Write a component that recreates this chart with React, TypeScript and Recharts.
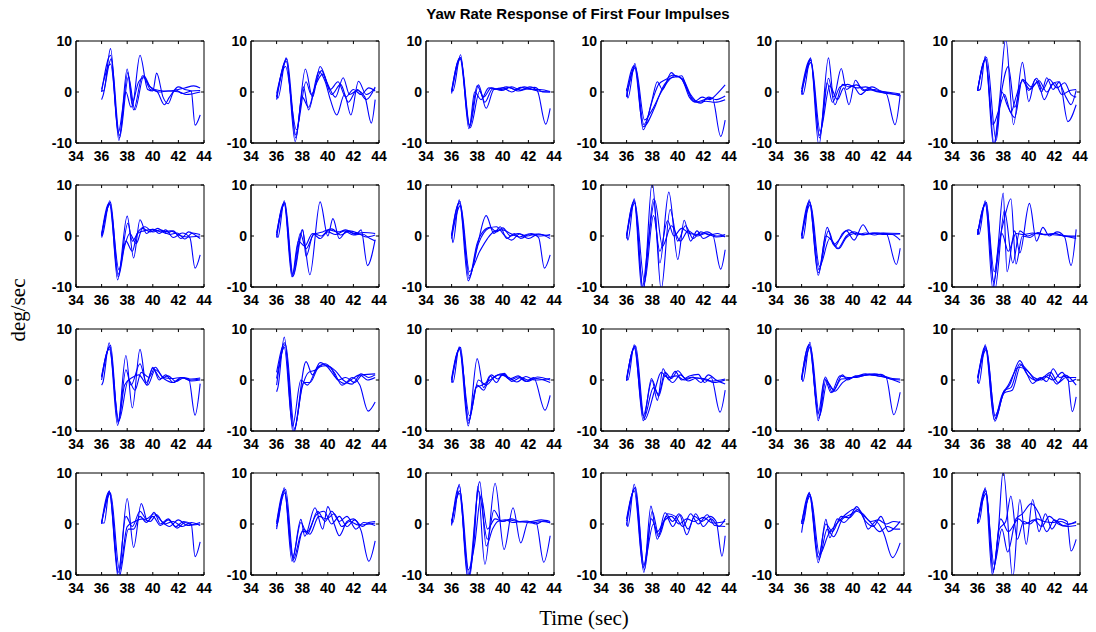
import { LineChart, Line, XAxis, YAxis, ReferenceArea, ReferenceLine } from 'recharts';

type Pt = [number, number];

const timeTicks = [34, 36, 38, 40, 42, 44];
const rateTicks = [-10, 0, 10];

// each panel: four traces of [time (sec), yaw rate (deg/sec)]
const r1c1: Pt[][] = [
  [[36, 0.3], [36.15, 0.2], [36.7, 8.5], [37.35, -9.5], [38.0, 4.5], [38.4, -2.5], [39.0, 7.2], [39.6, 0.5], [40.0, 0.2], [40.3, 3.7], [40.8, -1], [41.2, -2.3], [41.6, 0], [42, 1], [42.5, 0.5], [43, 0.2], [43.3, -6.5], [43.7, -4.5]],
  [[36, -1.5], [36.1, -0.8], [36.75, 6.5], [37.4, -8.5], [38.05, 3.8], [38.5, -3.5], [39.2, 3.2], [39.8, 1], [40.5, 0.3], [41.2, 0.2], [42, 0.5], [42.5, 0.8], [43.2, 1.2], [43.7, 0.8]],
  [[36, 0], [36.7, 7.2], [37.3, -8], [37.9, 0], [38.3, -3], [38.9, 2], [39.3, 2.8], [39.8, 0.5], [40.3, 0.2], [40.9, -2.5], [41.3, -1], [41.8, 0.4], [42.3, -0.3], [43, 0.2], [43.7, 0.3]],
  [[36, 0.5], [36.7, 5.5], [37.4, -9], [38.1, 3], [38.6, -3.5], [39.3, 3.2], [39.8, 1], [40.5, 0], [41.2, 0.2], [42.1, 0], [42.6, -0.5], [43.7, 0]],
];
const r1c2: Pt[][] = [
  [[36, -0.5], [36.1, -1.2], [36.75, 6.7], [37.45, -9.7], [38.25, 4.5], [38.8, -1], [39.4, 5], [40, 1.5], [40.6, -1], [41.2, 2.8], [41.7, -0.5], [42.3, 0.3], [42.9, -1], [43.4, -6.1], [43.7, -1.5]],
  [[36, -1.5], [36.8, 6.5], [37.5, -8.4], [38.1, 1], [38.5, -3.5], [39.3, 4], [39.8, 2], [40.2, -1.5], [40.7, -4.5], [41.3, -0.5], [41.8, -4.5], [42.4, 2.1], [43, -0.5], [43.7, 0.7]],
  [[36, -0.3], [36.7, 5], [37.55, -7.4], [38.3, 2], [38.7, -0.5], [39.5, 4.2], [40.2, 0.5], [40.8, 2], [41.4, -1], [42, 0.5], [42.6, -0.5], [43.2, 0.8], [43.7, 0.2]],
  [[36, -1], [36.75, 6], [37.5, -9], [38, -1], [38.5, -3], [39.0, 1], [39.6, 3.5], [40.3, -0.5], [41, 1.5], [41.6, -2], [42.3, 0.5], [43, -1.5], [43.7, 1]],
];
const r1c3: Pt[][] = [
  [[36, 0.6], [36.1, 0.2], [36.7, 7.3], [37.35, -7.2], [38.0, 1.2], [38.5, -1], [39.1, 0.8], [39.9, 0.3], [40.7, 1], [41.4, 0.4], [42.1, 1], [42.7, 0.2], [43.35, -6.3], [43.7, -3.2]],
  [[36, 0], [36.65, 6.7], [37.4, -6.8], [38.1, 1.4], [38.7, -3.2], [39.3, 0.5], [40.0, 0.8], [40.7, 0], [41.4, 0.9], [42.2, 0.5], [42.9, 0.5], [43.7, 0.1]],
  [[36, 0.3], [36.7, 6.8], [37.45, -7], [38.2, 0.2], [38.6, -2], [39.2, 0.6], [39.9, 0.5], [40.5, 0.9], [41.2, 0.2], [41.9, 0.6], [42.5, 0.9], [43.1, 0], [43.7, 0]],
  [[36, -0.3], [36.7, 6.5], [37.4, -6.5], [37.8, 0], [38.3, -1.5], [38.9, 0.8], [39.6, 0.6], [40.3, 1], [41.0, 0.5], [41.7, 1], [42.4, 0.4], [43.7, 0]],
];
const r1c4: Pt[][] = [
  [[36, 0.7], [36.1, -1.2], [36.65, 5.6], [37.3, -7.4], [37.95, -2], [38.4, 2], [38.8, 0.5], [39.5, 3.8], [39.9, 3], [40.3, 3.2], [40.8, 0], [41.3, -1.9], [41.9, -1], [42.5, -1.5], [43.0, -0.5], [43.7, 1.4]],
  [[36, -1], [36.65, 5], [37.35, -6.4], [38.1, -1], [38.5, 1.5], [39.1, 2.5], [39.6, 3.3], [40.3, 2.6], [40.9, -1], [41.4, -2], [42.1, -1.5], [42.7, -1.2], [43.35, -8.7], [43.7, -5.5]],
  [[36, -0.8], [36.7, 4.8], [37.4, -5.5], [38, -3.5], [38.6, -0.5], [39.2, 2], [39.8, 3.2], [40.4, 2.5], [41, -0.5], [41.6, -2], [42.2, -1.8], [42.9, -2], [43.7, -1.5]],
  [[36, 0.2], [36.6, 5.2], [37.3, -6.8], [38.2, -3], [38.8, 0.8], [39.5, 2.8], [40.1, 3], [40.6, 1.2], [41.2, -1.5], [41.8, -2.2], [42.4, -1], [43.0, -1.5], [43.7, -0.8]],
];
const r1c5: Pt[][] = [
  [[36, 0.3], [36.1, -0.5], [36.7, 6.7], [37.35, -10.5], [38.1, 6.7], [38.5, -1], [39.1, 4.6], [39.5, 0.5], [40, 1.2], [40.6, -0.5], [41.2, 0.5], [42, 0], [42.6, -0.3], [43.3, -6.4], [43.7, -0.6]],
  [[36, -0.5], [36.7, 6.2], [37.4, -9], [38.1, 2.7], [38.6, -2.5], [39.2, 1.5], [39.7, 1], [40.3, 1.4], [41, 0.3], [41.7, 0.5], [42.5, -0.2], [43.7, -0.5]],
  [[36, 0], [36.75, 5.8], [37.45, -7.7], [38.2, 1.2], [38.8, -1.5], [39.3, 0.8], [39.7, -2.5], [40.2, 2.3], [40.8, 0.3], [41.5, 1], [42.2, 0.2], [43, -0.3], [43.7, -0.8]],
  [[36, 0.5], [36.7, 6.5], [37.4, -8.5], [38.0, 1.8], [38.4, -2], [39.0, 1], [39.6, 1.5], [40.3, 0.8], [41, 1], [41.8, 0.2], [42.6, 0], [43.7, -0.4]],
];
const r1c6: Pt[][] = [
  [[36, 0.3], [36.2, 0.5], [36.6, 7], [37.25, -10.5], [37.7, -2], [38.2, 10.5], [38.8, -6.4], [39.5, 5.8], [40, -1.9], [40.5, 2.5], [41, 0], [41.4, 2.8], [41.9, 0.5], [42.4, 2], [43.05, -5.8], [43.7, -2.5]],
  [[36, 0.2], [36.65, 6.5], [37.3, -10.5], [37.8, -1], [38.4, 5], [38.9, -3], [39.5, 2.4], [40, 0.3], [40.6, 2.7], [41.1, 0.5], [41.6, 2.5], [42.2, 0.8], [42.8, 1.8], [43.3, -0.5], [43.7, -1]],
  [[36, 0.3], [36.6, 6.3], [37.2, -6.4], [37.6, -4], [38.1, -0.5], [38.6, -4], [39.0, -1], [39.5, 2.2], [40.1, 0.5], [40.7, 2], [41.2, -1.5], [41.8, 1.5], [42.3, 2], [42.9, -1], [43.3, -2.5], [43.7, 0.3]],
  [[36, 0.4], [36.7, 6.8], [37.45, -9.5], [37.9, 0], [38.3, -2.5], [38.9, -5], [39.5, 2.5], [40.2, 1], [40.8, 2.2], [41.4, 0], [42, 1.8], [42.6, -0.5], [43.2, 0.3], [43.7, 0.5]],
];

const r2c1: Pt[][] = [
  [[36, -0.3], [36.1, 0.4], [36.65, 6.9], [37.25, -8.6], [38, 3.9], [38.5, -4.3], [39, 3.2], [39.5, 0.5], [40, 1.3], [40.5, 0.5], [41, 1.2], [41.6, -0.3], [42.3, 0.6], [42.9, -0.3], [43.3, -6.3], [43.7, -3.7]],
  [[36, 0.4], [36.6, 6.5], [37.3, -8], [37.8, -2], [38.2, 0.5], [38.7, -1.5], [39.2, 1.5], [39.8, 0.8], [40.4, 1.5], [41, 0.5], [41.6, 1], [42.2, -0.5], [42.8, 0.8], [43.3, 0.2], [43.7, -0.5]],
  [[36, 0], [36.65, 6.2], [37.35, -6.6], [38.05, 2.5], [38.4, -1], [38.9, 1], [39.4, 1.8], [40, 0.8], [40.6, 1.2], [41.3, 0.3], [41.9, 0.6], [42.5, -0.6], [43.1, 0.6], [43.7, 0.3]],
  [[36, 0.2], [36.7, 6.6], [37.3, -7.5], [37.9, -1], [38.4, -3], [38.8, 0.5], [39.3, 1], [40, 1.3], [40.7, 0.8], [41.4, 1], [42, 0.2], [42.7, -0.2], [43.7, 0]],
];
const r2c2: Pt[][] = [
  [[36, 0.3], [36.1, -0.3], [36.6, 6.9], [37.25, -8], [38, 1.2], [38.6, -7.6], [39.4, 6.7], [40, 0], [40.4, 3.4], [40.9, -0.5], [41.5, 1], [42.2, 0.3], [42.6, 1.2], [43.1, -5.8], [43.7, -0.7]],
  [[36, -0.3], [36.65, 6.5], [37.3, -7.8], [38.05, 1.2], [38.3, -4], [38.9, 0.5], [39.5, 0], [40.1, 1.2], [40.8, 0.8], [41.4, 1.2], [42.1, 0.5], [42.8, 0.7], [43.7, 0.5]],
  [[36, 0.6], [36.6, 6.2], [37.2, -8], [37.7, -1], [38.2, -2], [38.8, 0.5], [39.4, -0.5], [40.0, 0.8], [40.6, 0.3], [41.3, 1], [42, 0.2], [42.7, 0.4], [43.3, -0.5], [43.7, -1]],
  [[36, 0.2], [36.6, 6.6], [37.25, -7.5], [37.85, 0.5], [38.3, -2.5], [38.9, 0.3], [39.6, 0.8], [40.3, 1.4], [41, 0.2], [41.7, 1], [42.4, 0.5], [43, -0.2], [43.7, 0.2]],
];
const r2c3: Pt[][] = [
  [[36, 0.5], [36.1, -1.3], [36.6, 7.1], [37.3, -8.8], [38, -2], [38.7, 4], [39.3, 0.5], [39.8, 1.8], [40.3, -0.5], [40.9, 0.5], [41.4, -0.5], [42.2, 0.5], [42.8, -0.3], [43.25, -6.3], [43.7, -3.7]],
  [[36, 0], [36.65, 6.8], [37.35, -8.3], [38, -1.4], [38.5, 1], [39, 1.7], [39.5, 0.8], [40, 1.6], [40.6, 0], [41.2, 0.5], [41.9, 0], [42.6, 0.4], [43.7, 0]],
  [[36, 0.3], [36.6, 6.5], [37.4, -7.8], [38.1, -1.5], [38.9, 1.5], [39.5, 1.8], [40.1, 0.2], [40.7, -0.8], [41.3, 0.4], [42, -0.5], [42.8, 0.4], [43.7, -0.5]],
  [[36, -0.5], [36.7, 6], [37.4, -7], [38.2, -3], [38.8, -0.5], [39.4, 1], [40, 1.2], [40.6, 0.5], [41.3, -0.2], [42, 0.4], [42.8, 0], [43.7, 0.3]],
];
const r2c4: Pt[][] = [
  [[36, 0.5], [36.1, -0.8], [36.6, 7.3], [37.3, -11], [38.0, 10.5], [38.6, -5.3], [39.3, 8.6], [40, -4.6], [40.5, 3.1], [41, -1], [41.5, 1], [42, -0.5], [42.7, 0.3], [43.35, -6.5], [43.7, -2.7]],
  [[36, -0.5], [36.6, 7], [37.3, -10.5], [38.1, 7.3], [38.7, -10.5], [39.4, 5.2], [40, -1], [40.6, 2], [41.2, -0.5], [41.8, 0.8], [42.5, 0.2], [43.1, 0.5], [43.7, -0.2]],
  [[36, 0], [36.65, 6.5], [37.4, -9], [38.1, 4], [38.6, -3], [39.2, 3], [39.7, 0], [40.3, 1.5], [40.9, 0.5], [41.6, 0.3], [42.3, 0.8], [43, 0], [43.7, 0.3]],
  [[36, 0.3], [36.6, 6.8], [37.2, -10.5], [37.7, -1], [38.2, 7], [38.8, -2], [39.5, 2], [40.2, -1], [40.8, 1], [41.5, 0], [42.2, 0.5], [43, -0.2], [43.7, 0]],
];
const r2c5: Pt[][] = [
  [[36, 0.5], [36.1, -0.5], [36.6, 7.1], [37.3, -7.7], [38, 1.7], [38.5, -1.7], [39, -0.5], [39.5, 1], [40.1, -0.8], [40.8, 2.2], [41.3, 0.5], [41.9, 0.6], [42.6, 0.5], [43.4, -5.6], [43.7, -2.4]],
  [[36, -0.5], [36.65, 6.6], [37.35, -6.6], [37.9, 0], [38.4, -1], [38.9, -2.5], [39.5, -0.3], [40.2, 0.5], [41, 0.3], [41.7, 0.6], [42.5, 0.5], [43.1, 0.3], [43.7, -0.8]],
  [[36, 0.2], [36.6, 6.8], [37.3, -7.2], [38.1, 1], [38.6, -2], [39.2, 0.5], [39.7, 1.2], [40.3, 0.2], [41, 0.6], [41.7, 0.2], [42.4, 0.6], [43.7, 0.5]],
  [[36, 0], [36.7, 6.2], [37.4, -6], [38.2, -0.5], [38.8, -2.5], [39.5, 0], [40.1, 0.8], [40.8, 0.2], [41.5, 0.6], [42.3, 0.3], [43.7, 0.4]],
];
const r2c6: Pt[][] = [
  [[36, 1.4], [36.1, 0.3], [36.6, 6.9], [37.2, -10.5], [37.6, -2], [38, 8.4], [38.3, -7], [38.9, 1], [39.3, -3.3], [40.05, 6.4], [40.6, -1], [41.1, 1.7], [41.6, 0], [42.2, 0.8], [42.8, -0.2], [43.3, -5.8], [43.7, 1.3]],
  [[36, 0.3], [36.65, 6.5], [37.3, -7], [37.7, -1], [38.1, 3.5], [38.6, 7.3], [39, -5.5], [39.5, 0], [40.1, -0.3], [40.7, 0.7], [41.3, 0.2], [42, 0.5], [42.8, 0], [43.7, -0.5]],
  [[36, 0.4], [36.6, 6.2], [37.35, -10.5], [38.1, 5], [38.75, -5.3], [39.3, 1], [39.9, 0], [40.5, 0.5], [41.2, 0.3], [42, 0.5], [42.7, 0], [43.7, -0.2]],
  [[36, 0.2], [36.7, 6.6], [37.25, -9], [37.9, 0.5], [38.4, -3], [39, 0.5], [39.6, 0.3], [40.3, 0.6], [41, 0.4], [41.8, 0.3], [42.5, 0.1], [43.7, 0]],
];

const r3c1: Pt[][] = [
  [[36, -1], [36.1, -0.5], [36.6, 7.3], [37.25, -8.9], [37.9, 4.8], [38.4, -5.5], [39, 6], [39.5, -1], [40, 2.5], [40.5, 0], [41, 1], [41.6, -0.5], [42.2, 0.5], [42.8, 0.3], [43.3, -6.9], [43.7, -0.7]],
  [[36, 0.7], [36.65, 6.5], [37.3, -8.2], [37.9, 2], [38.3, -1], [39, 3.2], [39.5, -0.5], [40, 2.3], [40.6, 0.3], [41.2, 0.8], [41.8, -0.3], [42.4, 0.4], [43, 0.2], [43.7, 0.4]],
  [[36, 0.5], [36.6, 6.1], [37.35, -8], [38.1, 0], [38.6, -2], [39.1, 1.5], [39.7, 0.5], [40.2, 2.5], [40.8, 0.5], [41.5, 0.3], [42.2, 0.5], [42.9, 0], [43.7, 0.2]],
  [[36, 0], [36.7, 6.8], [37.3, -8.5], [37.8, -1], [38.4, 0.5], [38.9, 1], [39.6, -1], [40.2, 2], [40.9, 0.2], [41.6, -0.5], [42.3, 0.5], [43, -0.2], [43.7, 0]],
];
const r3c2: Pt[][] = [
  [[36, -2.3], [36.1, -1.5], [36.6, 8.4], [37.3, -10.5], [38.3, 3.6], [38.8, 1], [39.4, 3.4], [40, 2.5], [40.6, 0.5], [41.3, -0.7], [41.9, 0.5], [42.5, -1], [43.15, -6.1], [43.7, -4.3]],
  [[36, 1.5], [36.65, 7.3], [37.35, -10], [38, -1.4], [38.5, 1.5], [39.1, 2], [39.6, 3], [40.2, 2.5], [40.8, 0], [41.4, 0.5], [42.1, -0.5], [42.7, 1], [43.7, 1.2]],
  [[36, -1], [36.6, 6.4], [37.25, -9], [37.9, 0], [38.4, -1], [39.2, 2.5], [39.8, 3.2], [40.5, 1.5], [41.1, -1], [41.8, 0], [42.5, 1], [43.1, 0], [43.7, 0.5]],
  [[36, 0.3], [36.7, 7], [37.4, -9.5], [38.1, -0.5], [38.6, -0.5], [39.3, 2.5], [39.9, 2.8], [40.6, 1.8], [41.2, 0], [41.9, -0.8], [42.6, 1.2], [43.2, 0.5], [43.7, 1]],
];
const r3c3: Pt[][] = [
  [[36, 0.3], [36.1, -0.5], [36.6, 6.5], [37.3, -9], [38, 4.2], [38.5, -1.5], [39, 0.8], [39.5, -0.5], [40, 1.2], [40.6, 0], [41.2, 0.6], [41.8, -0.3], [42.4, 0.5], [43.3, -5.9], [43.7, -3]],
  [[36, -0.5], [36.65, 6.3], [37.35, -8], [38, -1], [38.5, -2], [39.1, 1], [39.6, 0.2], [40.1, 1.3], [40.7, -0.3], [41.4, 0.5], [42, 0], [42.7, 0.6], [43.7, 0]],
  [[36, 0.3], [36.6, 6], [37.4, -7], [38.1, 0], [38.7, -1], [39.3, 0.5], [39.9, 1.2], [40.5, 0.2], [41.2, 0.8], [41.9, -0.3], [42.6, 0.3], [43.7, -0.5]],
  [[36, 0], [36.7, 6.4], [37.3, -8.5], [37.9, -1.5], [38.4, -1], [39, 0], [39.7, 1], [40.4, 0.6], [41.1, -0.4], [41.8, 0.7], [42.5, 0], [43.7, 0.3]],
];
const r3c4: Pt[][] = [
  [[36, 0.3], [36.1, 0], [36.6, 6.9], [37.3, -8], [37.95, 0.3], [38.4, -4], [38.85, 2.2], [39.3, 0], [39.8, 1.7], [40.3, 0], [40.9, 0.8], [41.6, 1.1], [42.1, -0.5], [42.6, 0.5], [43.3, -6.3], [43.7, -2]],
  [[36, 0], [36.65, 6.6], [37.35, -7.5], [38.1, -1.5], [38.5, -2.8], [39, 1.5], [39.5, 0.3], [40, 1.8], [40.6, 0.3], [41.2, 0.6], [41.8, -0.5], [42.4, 1], [43, 0], [43.7, -0.8]],
  [[36, -0.2], [36.6, 6.3], [37.3, -7], [38, 0], [38.5, -3.2], [39, 0.8], [39.6, -0.5], [40.2, 1], [40.8, -0.2], [41.5, 0.4], [42.2, 0.2], [42.8, -0.5], [43.7, 0]],
  [[36, 0.4], [36.7, 6.7], [37.4, -7.8], [38.2, -2], [38.7, 1.5], [39.2, 0.5], [39.9, 0.8], [40.5, 0], [41.2, 0.5], [41.9, 0.2], [42.6, -0.2], [43.7, 0.2]],
];
const r3c5: Pt[][] = [
  [[36, 0.8], [36.1, -0.3], [36.65, 7.4], [37.3, -8], [37.85, 0.6], [38.4, -2.4], [39.2, 1], [39.6, 0], [40.2, 0.8], [40.8, 0.9], [41.4, 1], [42, 0.8], [42.6, 0.5], [43.2, -6.8], [43.7, -2.4]],
  [[36, 0.2], [36.6, 7], [37.35, -7.5], [37.9, 0], [38.5, -2], [39.1, 0.2], [39.7, 0.3], [40.4, 0.8], [41, 1.2], [41.6, 1], [42.2, 1.1], [42.8, 0.3], [43.7, 0]],
  [[36, 0], [36.7, 6.5], [37.4, -7], [38, -0.5], [38.6, -2.2], [39.2, -0.5], [39.9, 0.5], [40.6, 0.7], [41.3, 1.1], [42, 0.8], [42.7, 0.4], [43.7, -0.5]],
  [[36, 0.5], [36.6, 6.8], [37.3, -6.5], [37.8, 0.3], [38.3, -2.5], [39, 0.8], [39.6, 0.5], [40.3, 0.5], [41, 1], [41.7, 1.2], [42.4, 0.8], [43.1, 0.3], [43.7, 0.2]],
];
const r3c6: Pt[][] = [
  [[36, 0], [36.1, -0.7], [36.6, 6.9], [37.35, -8.1], [38, -2.7], [38.5, -1], [39.3, 3.8], [39.8, 1.5], [40.3, -0.7], [40.9, 0.5], [41.4, -0.3], [41.9, 2.2], [42.4, 0.5], [43, 0.8], [43.4, -6.2], [43.7, -3.3]],
  [[36, 0.5], [36.65, 6.3], [37.4, -7.5], [38.1, -2], [38.6, -1.5], [39.3, 3.2], [39.9, 1], [40.5, 0], [41.1, 0.5], [41.7, 1.5], [42.3, -0.5], [42.9, 0.5], [43.7, 0.5]],
  [[36, -0.5], [36.6, 6.6], [37.3, -7.8], [37.9, -3], [38.4, -1], [39.2, 2.5], [39.8, 2], [40.4, 0.5], [41, 0], [41.6, 1], [42.2, -0.8], [42.8, 1], [43.7, -1]],
  [[36, 0.3], [36.7, 6], [37.35, -7], [38.1, -2.5], [38.7, -2], [39.4, 3], [40, 1.5], [40.6, -0.2], [41.3, 0.7], [41.9, 0], [42.6, 1.5], [43.2, -0.3], [43.7, 0.2]],
];

const r4c1: Pt[][] = [
  [[36, 0.2], [36.2, 0.2], [36.6, 6.5], [37.3, -10.5], [38, 5], [38.5, -4.6], [39.1, 4], [39.6, 0.5], [40.1, 2.3], [40.6, 0], [41.2, 1], [41.8, -0.5], [42.4, 0.5], [43, 0], [43.3, -6.4], [43.7, -3.5]],
  [[36, 0], [36.65, 6.2], [37.35, -10.5], [38.1, -1], [38.5, -1], [39, 1.5], [39.5, 0.3], [40, 1.5], [40.6, -0.3], [41.2, 0.8], [41.9, -0.8], [42.5, 0.3], [43.1, -0.2], [43.7, 0]],
  [[36, 0.3], [36.6, 6.4], [37.3, -9.5], [37.9, 1.5], [38.4, -0.5], [39, 2.5], [39.5, 1], [40.1, 2], [40.7, 0.5], [41.3, -0.5], [42, 0.8], [42.7, -0.3], [43.7, 0.3]],
  [[36, 0.2], [36.7, 6], [37.4, -9], [38, -0.5], [38.6, 0.5], [39.2, 1], [39.8, 0.5], [40.3, 1.8], [40.9, 0], [41.6, 0.5], [42.3, -0.5], [43, 0.3], [43.7, -0.3]],
];
const r4c2: Pt[][] = [
  [[36, -0.5], [36.1, 0.3], [36.6, 7.1], [37.2, -7.3], [37.9, 0.9], [38.2, -2.4], [39, 3.2], [39.6, -1], [40, 3.4], [40.5, 0], [40.9, -2.3], [41.5, 0.5], [42, 1], [42.6, -1.3], [43.2, -7.3], [43.7, -3.3]],
  [[36, -1], [36.65, 6.1], [37.3, -7], [38, -1.5], [38.4, -1.5], [39.1, 1.8], [39.7, 2.5], [40.3, 0], [40.9, 1.5], [41.5, -0.5], [42.1, 0.8], [42.7, -0.5], [43.2, 0.3], [43.7, 0.5]],
  [[36, 0.3], [36.6, 6.6], [37.25, -6.5], [37.9, 0.3], [38.4, -2], [39.2, 2.5], [39.8, 0.5], [40.3, 2.5], [40.9, 0.5], [41.5, 1.5], [42.2, -1], [42.8, 0.3], [43.7, -0.3]],
  [[36, 0], [36.7, 6.8], [37.35, -7.5], [38.1, -1], [38.6, -2], [39.3, 1.5], [39.9, 1], [40.5, 2], [41.1, -0.5], [41.7, 0.5], [42.4, -0.2], [43.7, 0.2]],
];
const r4c3: Pt[][] = [
  [[36, 1], [36.1, 0.3], [36.6, 7.8], [37.25, -10.5], [37.8, -2], [38.05, 7.4], [38.6, -7.9], [39.4, 8], [40.1, -5], [40.8, 3.2], [41.4, -3.7], [42, 0.5], [42.6, 0.3], [43.2, -7.5], [43.7, -2.3]],
  [[36, -0.3], [36.6, 7.5], [37.3, -10.5], [38.2, 8.3], [38.7, -4.3], [39.2, -1], [39.6, 0.5], [40.2, 0.8], [40.8, 0.3], [41.5, 0.5], [42.2, 0.2], [43, 0.5], [43.7, 0.3]],
  [[36, 0.5], [36.65, 6.5], [37.4, -10.5], [38.1, 6.5], [38.8, -3], [39.3, 2.7], [39.9, 0.5], [40.5, 0.8], [41.2, 0.5], [41.9, 0.6], [42.6, 0], [43.2, 0.6], [43.7, 0.2]],
  [[36, 0], [36.6, 6], [37.3, -9], [37.8, -4], [38.3, 5.5], [38.8, -1], [39.4, 1], [40, 0.5], [40.7, 1], [41.4, 0.4], [42.2, 0.5], [43, 0.8], [43.7, 0.5]],
];
const r4c4: Pt[][] = [
  [[36, 0.3], [36.1, -0.5], [36.6, 7.8], [37.35, -9.5], [37.9, 3.5], [38.4, -3], [39, 2.2], [39.6, 0.5], [40.1, 2], [40.7, -2.1], [41.3, 1.5], [41.9, 0.5], [42.5, 1.5], [43, 0.5], [43.45, -6.3], [43.7, -2.3]],
  [[36, -0.3], [36.65, 7], [37.4, -9], [38, 2.5], [38.5, -2], [39.1, 1.5], [39.6, -0.5], [40.2, 1.8], [40.8, -1], [41.4, 2], [42, -0.5], [42.6, 1], [43.2, -0.5], [43.7, 1]],
  [[36, 1], [36.6, 6.5], [37.3, -8.5], [38.1, 0], [38.5, -2.5], [39.2, 2], [39.8, 1.5], [40.4, -0.5], [41, 2], [41.6, 0], [42.3, 1.8], [42.9, -0.3], [43.7, -0.5]],
  [[36, 0.5], [36.7, 7.2], [37.35, -8], [37.95, 1], [38.4, -1.5], [38.9, 0.5], [39.5, 1.5], [40.1, 0], [40.7, 1], [41.3, 0.5], [42, 1.3], [42.7, 0.2], [43.7, 0.5]],
];
const r4c5: Pt[][] = [
  [[36, 0.6], [36.1, 0], [36.6, 6.2], [37.3, -7.6], [37.9, 0.9], [38.2, -2.7], [38.8, 1], [39.3, 0.3], [39.8, 1.5], [40.3, 3.4], [40.8, 1.5], [41.2, -1], [41.8, 0.5], [42.4, -1.7], [43.1, -6.6], [43.7, -3.7]],
  [[36, -1.7], [36.65, 5.8], [37.35, -7], [38, -1], [38.5, -2.5], [39.2, 1], [39.8, 1.8], [40.4, 2.8], [41, 0.5], [41.6, -0.5], [42.2, 1.5], [42.8, -1.5], [43.7, 0.5]],
  [[36, 0], [36.6, 6], [37.3, -6.5], [37.9, 0], [38.4, -1.5], [39.1, 1.5], [39.7, 1.2], [40.3, 2.5], [40.9, 1.5], [41.5, 0], [42.1, -1.5], [42.7, -0.5], [43.3, -1], [43.7, -1]],
  [[36, 0.3], [36.7, 5.5], [37.4, -6], [38.1, -2], [38.8, 0.2], [39.5, 2], [40.2, 3], [40.8, 2], [41.4, 0.5], [42, 0.8], [42.6, 0], [43.2, 0.5], [43.7, 0.3]],
];
const r4c6: Pt[][] = [
  [[36, 1], [36.1, 0.3], [36.6, 7.1], [37.15, -9.9], [37.6, -2], [38.0, 10.5], [38.75, -10.5], [39.3, 4.8], [39.8, -4], [40.3, 4.8], [40.8, -1.5], [41.3, 2], [41.8, -1], [42.4, 1], [43, 0.5], [43.3, -5.3], [43.7, -3]],
  [[36, 0.3], [36.65, 6.5], [37.25, -9], [37.7, -1], [38.2, 0.5], [38.6, 5.5], [39.1, -3], [39.6, 0.5], [40.1, 0], [40.6, 1], [41.2, 0.5], [41.8, 0.3], [42.5, 0.5], [43.1, 0], [43.7, 0.3]],
  [[36, 0], [36.6, 6.8], [37.3, -8], [37.9, -1], [38.35, -5.5], [39, 1], [39.5, 2], [40.2, 4], [40.8, 2], [41.4, -1.5], [42, 0.8], [42.7, -0.3], [43.7, 0.5]],
  [[36, 0.5], [36.7, 6], [37.2, -9.5], [37.8, 1], [38.4, -1.5], [39.2, 1], [39.7, 0], [40.4, 0.8], [41, -0.5], [41.6, 1.5], [42.3, 0], [43, -0.5], [43.7, -0.3]],
];

const grid: Pt[][][][] = [
  [r1c1, r1c2, r1c3, r1c4, r1c5, r1c6],
  [r2c1, r2c2, r2c3, r2c4, r2c5, r2c6],
  [r3c1, r3c2, r3c3, r3c4, r3c5, r3c6],
  [r4c1, r4c2, r4c3, r4c4, r4c5, r4c6],
];

const tMin = timeTicks[0];
const tMax = timeTicks[timeTicks.length - 1];
const yMin = rateTicks[0];
const yMax = rateTicks[rateTicks.length - 1];

const tickFont = {
  fill: '#000',
  fontSize: 14,
  fontWeight: 'bold',
  fontFamily: '"Liberation Sans", Arial, sans-serif',
};

function Panel({ lines, left, top }: { lines: Pt[][]; left: number; top: number }) {
  return (
    <div style={{ position: 'absolute', left, top }}>
      <LineChart width={185} height={137} margin={{ top: 10, right: 12, bottom: 0, left: 0 }}>
        <XAxis
          xAxisId="b"
          type="number"
          dataKey="t"
          domain={[tMin, tMax]}
          ticks={timeTicks}
          interval={0}
          allowDataOverflow
          height={25}
          tickSize={-3}
          tickMargin={11}
          tick={tickFont}
          axisLine={{ stroke: '#000' }}
          tickLine={{ stroke: '#000' }}
        />
        <YAxis
          yAxisId="l"
          type="number"
          domain={[yMin, yMax]}
          ticks={rateTicks}
          interval={0}
          allowDataOverflow
          width={45}
          tickSize={-3}
          tickMargin={7}
          tick={tickFont}
          axisLine={{ stroke: '#000' }}
          tickLine={{ stroke: '#000' }}
        />
        {lines.map((pts, i) => (
          <Line
            key={i}
            xAxisId="b"
            yAxisId="l"
            data={pts.map(([t, v]) => ({ t, v }))}
            dataKey="v"
            type="monotone"
            stroke="#0000ff"
            strokeWidth={1.1}
            dot={false}
            activeDot={false}
            isAnimationActive={false}
          />
        ))}
        <ReferenceArea
          xAxisId="b"
          yAxisId="l"
          x1={tMin}
          x2={tMax}
          y1={yMin}
          y2={yMax}
          fill="none"
          fillOpacity={0}
          stroke="#000"
          strokeWidth={1}
          ifOverflow="visible"
        />
        {timeTicks.slice(1, -1).map((t) => (
          <ReferenceLine
            key={`tt${t}`}
            xAxisId="b"
            yAxisId="l"
            segment={[{ x: t, y: yMax }, { x: t, y: yMax - 0.6 }]}
            stroke="#000"
            ifOverflow="visible"
          />
        ))}
        {rateTicks.map((y) => (
          <ReferenceLine
            key={`rt${y}`}
            xAxisId="b"
            yAxisId="l"
            segment={[{ x: tMax, y }, { x: tMax - 0.25, y }]}
            stroke="#000"
            ifOverflow="visible"
          />
        ))}
      </LineChart>
    </div>
  );
}

export default function App() {
  return (
    <div style={{ position: 'absolute', left: 0, top: 0, width: 1096, height: 632, background: '#fff' }}>
      {grid.map((row, r) =>
        row.map((lines, c) => (
          <Panel key={`${r}-${c}`} lines={lines} left={Math.round(75.5 + c * 175.2) - 45} top={31 + r * 144} />
        ))
      )}
      <svg width={1096} height={632} style={{ position: 'absolute', left: 0, top: 0, pointerEvents: 'none' }}>
        <text x={578} y={19} textAnchor="middle" fontFamily='"Liberation Sans", Arial, sans-serif' fontWeight="bold" fontSize={15} fill="#000">
          Yaw Rate Response of First Four Impulses
        </text>
        <text x={584} y={625} textAnchor="middle" fontFamily='"Liberation Serif", "Times New Roman", serif' fontSize={21} fill="#000">
          Time (sec)
        </text>
        <text x={25} y={310} textAnchor="middle" transform="rotate(-90 25 310)" fontFamily='"Liberation Serif", "Times New Roman", serif' fontSize={21} fill="#000">
          deg/sec
        </text>
      </svg>
    </div>
  );
}
